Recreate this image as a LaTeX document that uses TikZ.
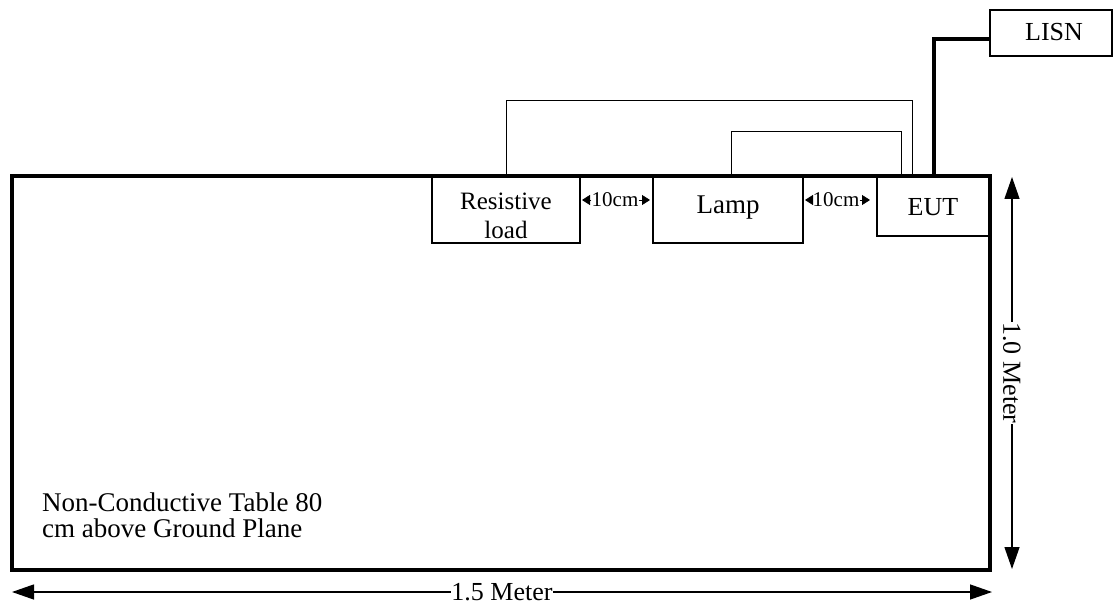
\documentclass[tikz,border=0pt]{standalone}
\usepackage{fontspec}
\setmainfont{Liberation Serif}
\usetikzlibrary{arrows.meta}
\begin{document}
\begin{tikzpicture}[x=1pt,y=-1pt,
  box/.style={draw, line width=1.3pt, inner sep=0pt, outer sep=0pt, anchor=north west},
  txt/.style={inner sep=0pt, anchor=base},
  thin/.style={line width=0.9pt},
  thickline/.style={line width=3.2pt},
  gaphead/.style={line width=0.8pt, -{Triangle[length=8pt,width=10pt]}},
  dim/.style={line width=1.3pt, {Triangle[length=22pt,width=15pt]}-{Triangle[length=22pt,width=15pt]}},
  lbl/.style={fill=white, inner sep=0pt, text depth=0pt}
]
\useasboundingbox (0,0) rectangle (1120,604);
% boxes
\node[box, minimum width=148pt, minimum height=67pt] (res) at (432,176) {};
\node[box, minimum width=150pt, minimum height=67pt] (lamp) at (653,176) {};
\node[box, minimum width=113pt, minimum height=60pt] (eut) at (877,176) {};
\node[box, minimum width=122pt, minimum height=46pt] (lisn) at (990,10) {};
% box texts
\node[txt, font=\fontsize{25}{30}\selectfont] (resA) at (506,210) {Resistive};
\node[txt, font=\fontsize{25}{30}\selectfont] (resB) at (506,239) {load};
\node[txt, font=\fontsize{27}{30}\selectfont] (lampT) at (728,214) {Lamp};
\node[txt, font=\fontsize{26}{30}\selectfont] (eutT) at (933,216) {EUT};
\node[txt, font=\fontsize{26}{30}\selectfont] (lisnT) at (1054,41) {LISN};
% table
\draw[thickline] (12,176) rectangle (990,570);
% connectors
\draw[thin] ([xshift=74pt]res.north west) -- ++(0,-76) -| ([xshift=35pt]eut.north west);
\draw[thin] ([xshift=78pt]lamp.north west) -- ++(0,-45) -| ([xshift=24pt]eut.north west);
\draw[thickline] ([yshift=-6pt]lisn.west) -| ([xshift=57pt]eut.north west);
% 10cm gaps
\node[txt, font=\fontsize{21}{24}\selectfont] (g1) at (615,207) {10cm};
\node[txt, font=\fontsize{21}{24}\selectfont] (g2) at (836,207) {10cm};
\coordinate (g1l) at ([yshift=7pt]g1.base west);
\coordinate (g1r) at ([yshift=7pt]g1.base east);
\coordinate (g2l) at ([yshift=7pt]g2.base west);
\coordinate (g2r) at ([yshift=7pt]g2.base east);
\draw[gaphead] (g1l) -- ([xshift=2pt]res.east |- g1l);
\draw[gaphead] (g1r) -- ([xshift=-3pt]lamp.west |- g1r);
\draw[gaphead] (g2l) -- ([xshift=2pt]lamp.east |- g2l);
\draw[gaphead] (g2r) -- ([xshift=-7pt]eut.west |- g2r);
% dimensions
\coordinate (vt) at (1012,177);
\coordinate (vb) at (1012,569);
\draw[dim] (vt) -- (vb) node[midway, lbl, rotate=-90, font=\fontsize{26}{30}\selectfont] {1.0 Meter};
\coordinate (hl) at (12,592);
\coordinate (hr) at (992,592);
\draw[dim] (hl) -- (hr) node[midway, lbl, font=\fontsize{26}{30}\selectfont] {1.5 Meter};
% table label
\node[txt, anchor=base west, font=\fontsize{27}{30}\selectfont] (tblA) at (42,511) {Non-Conductive Table 80};
\node[txt, anchor=base west, font=\fontsize{27}{30}\selectfont] (tblB) at (42,537) {cm above Ground Plane};
\end{tikzpicture}
\end{document}
